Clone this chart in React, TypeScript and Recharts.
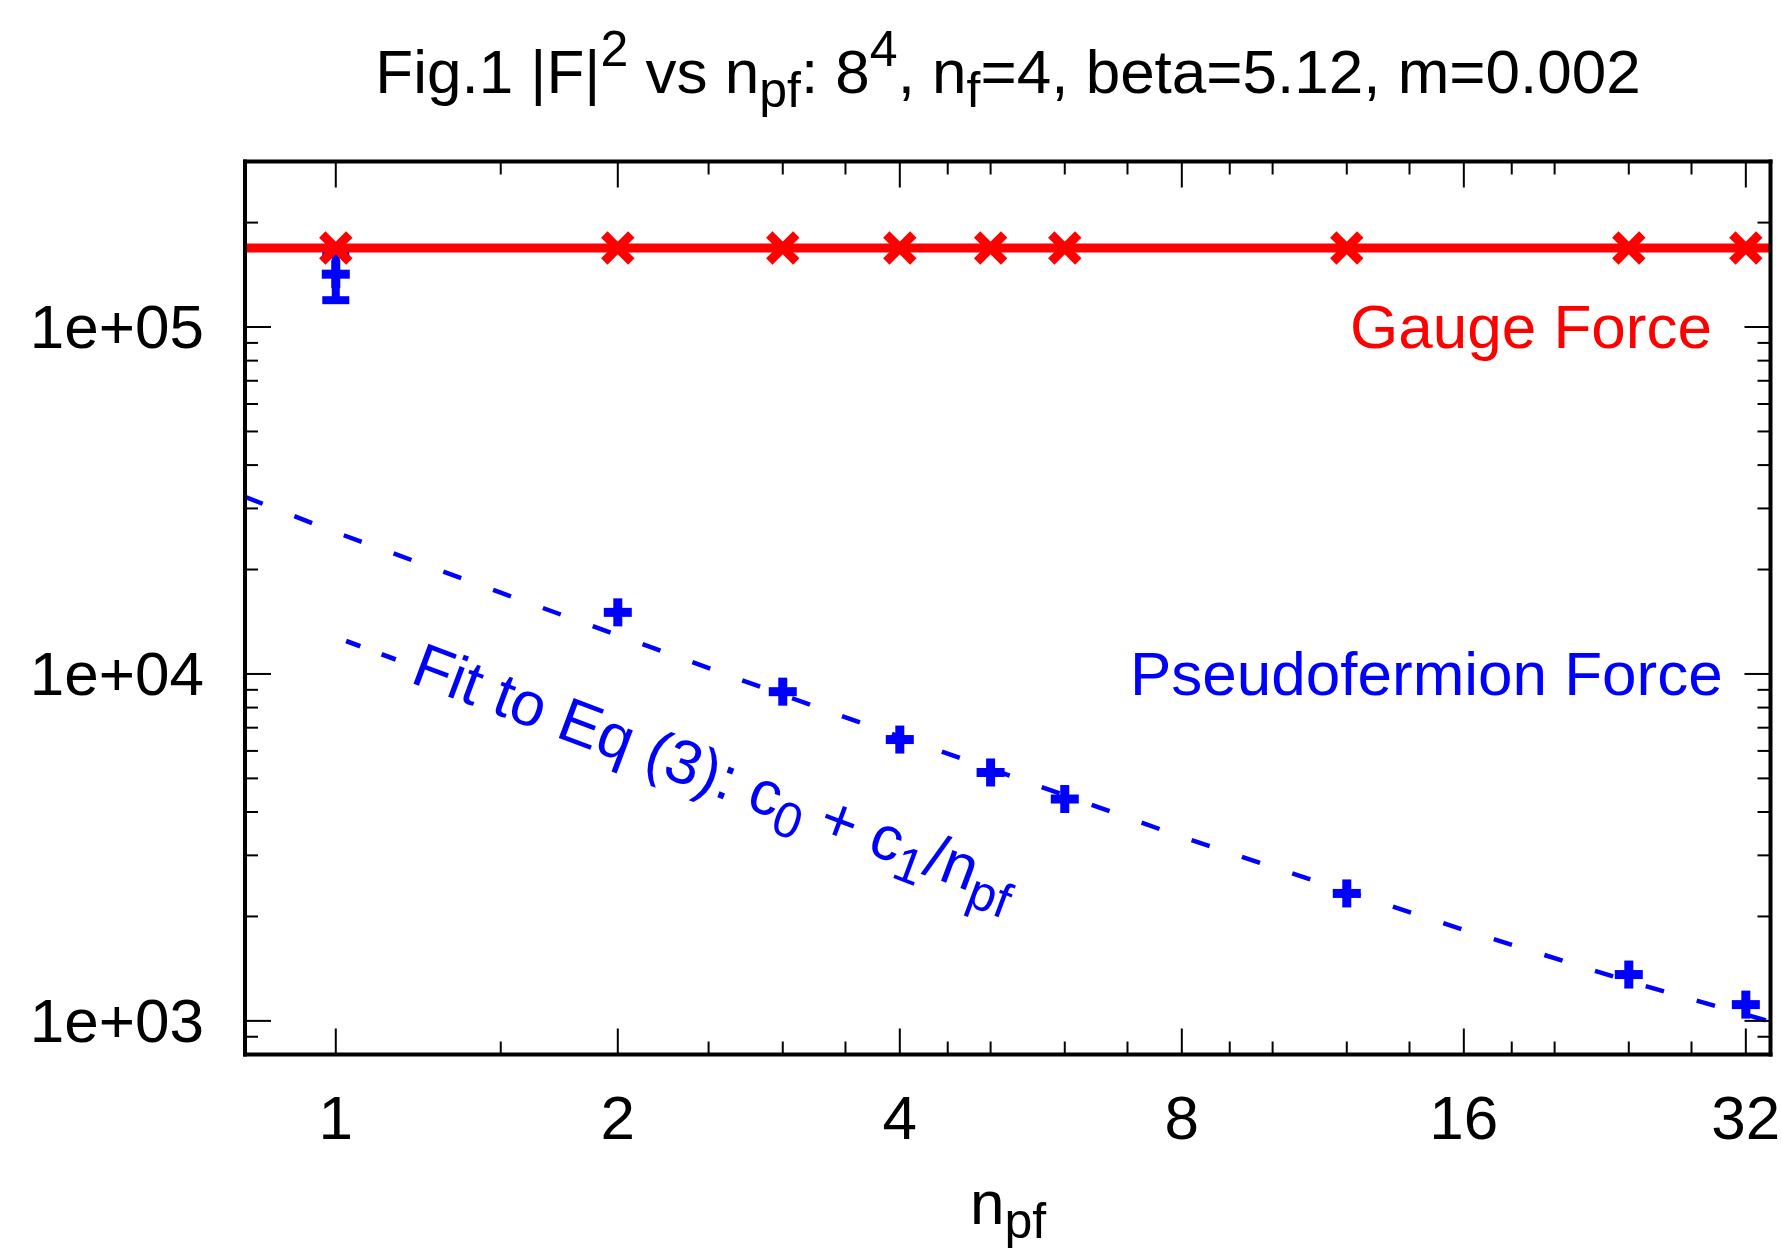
import React from 'react';
import { ComposedChart, Line, Scatter, XAxis, YAxis, ErrorBar } from 'recharts';

const W = 1781;
const H = 1252;
// plot frame (pixels)
const PL = 245;
const PT = 161.5;
const PR = 1770.5;
const PB = 1054.5;

const FONT = '"Liberation Sans", Arial, Helvetica, sans-serif';
const FS = 62;

// number of pseudofermions
const npf = [1, 2, 3, 4, 5, 6, 12, 24, 32];
// |F|^2 gauge force
const gaugeForce = [169000, 169000, 169000, 169000, 169000, 169000, 169000, 169000, 169000];
// |F|^2 pseudofermion force and its error
const pseudoForce = [142000, 15050, 8890, 6470, 5200, 4360, 2330, 1360, 1114];
const pseudoErr = [22500, 0, 0, 0, 0, 0, 0, 0, 0];

// constant fit to the gauge force
const gaugeFitN = [0.8, 34];
const gaugeFit = 169000;

// fit curve c0 + c1/npf
const fitN = [0.8, 1, 1.5, 2, 3, 4, 6, 8, 12, 16, 24, 34];
const fitVal = [32400, 25600, 17150, 12930, 8700, 6600, 4470, 3390, 2360, 1830, 1300, 995];

const xMajor = [1, 2, 4, 8, 16, 32];
const xLabels = ['1', '2', '4', '8', '16', '32'];
const xMinor = [1.5, 2.5, 3, 3.5, 4.5, 5, 6, 7, 9, 10, 12, 14, 18, 20, 24, 28];
const yMajor = [1000, 10000, 100000];
const yLabels = ['1e+03', '1e+04', '1e+05'];
const yMinor = [900, 2000, 3000, 4000, 5000, 6000, 7000, 8000, 9000,
  20000, 30000, 40000, 50000, 60000, 70000, 80000, 90000, 200000];

const xTicks = [...xMajor, ...xMinor].sort((a, b) => a - b);
const yTicks = [...yMajor, ...yMinor].sort((a, b) => a - b);

const gaugeData = npf.map((n, i) => ({ n, v: gaugeForce[i] }));
const pseudoData = npf.map((n, i) => ({ n, v: pseudoForce[i], err: pseudoErr[i] }));
const gaugeFitData = gaugeFitN.map(n => ({ n, v: gaugeFit }));
const fitData = fitN.map((n, i) => ({ n, v: fitVal[i] }));

const MAJ = 26;
const MIN = 13;

const BottomTick = (p: any) => {
  const v = p.payload.value;
  const k = xMajor.indexOf(v);
  return (
    <g>
      <line x1={p.x} y1={p.y} x2={p.x} y2={p.y - (k >= 0 ? MAJ : MIN)} stroke="#000" strokeWidth={2} />
      {k >= 0 && (
        <text x={p.x} y={p.y + 84.5} textAnchor="middle" fontSize={FS} fontFamily={FONT} fill="#000">
          {xLabels[k]}
        </text>
      )}
    </g>
  );
};

const TopTick = (p: any) => {
  const k = xMajor.indexOf(p.payload.value);
  return <line x1={p.x} y1={p.y} x2={p.x} y2={p.y + (k >= 0 ? MAJ : MIN)} stroke="#000" strokeWidth={2} />;
};

const LeftTick = (p: any) => {
  const k = yMajor.indexOf(p.payload.value);
  return (
    <g>
      <line x1={p.x} y1={p.y} x2={p.x + (k >= 0 ? MAJ : MIN)} y2={p.y} stroke="#000" strokeWidth={2} />
      {k >= 0 && (
        <text x={p.x - 41} y={p.y + 21} textAnchor="end" fontSize={FS} fontFamily={FONT} fill="#000">
          {yLabels[k]}
        </text>
      )}
    </g>
  );
};

const RightTick = (p: any) => {
  const k = yMajor.indexOf(p.payload.value);
  return <line x1={p.x} y1={p.y} x2={p.x - (k >= 0 ? MAJ : MIN)} y2={p.y} stroke="#000" strokeWidth={2} />;
};

const Cross = (p: any) => {
  const { cx, cy } = p;
  const d = 13.5;
  return (
    <g stroke="#ff0000" strokeWidth={9}>
      <line x1={cx - d} y1={cy - d} x2={cx + d} y2={cy + d} />
      <line x1={cx - d} y1={cy + d} x2={cx + d} y2={cy - d} />
    </g>
  );
};

const Plus = (p: any) => {
  const { cx, cy } = p;
  return (
    <g fill="#0000ff">
      <rect x={cx - 14} y={cy - 4.5} width={28} height={9} />
      <rect x={cx - 4.5} y={cy - 14} width={9} height={28} />
    </g>
  );
};

const frame = { stroke: '#000', strokeWidth: 4, strokeLinecap: 'square' as const };
const SUB = 50;

export default function App() {
  return (
    <div style={{ position: 'absolute', left: 0, top: 0, width: W, height: H, background: '#fff' }}>
      <ComposedChart
        width={W}
        height={H}
        margin={{ top: PT - 1, right: W - PR - 1, bottom: H - PB - 1, left: PL - 1 }}
      >
        <XAxis
          dataKey="n"
          type="number"
          scale="log"
          domain={[0.8, 34]}
          allowDataOverflow
          ticks={xTicks}
          interval={0}
          height={1}
          tickSize={0}
          tickMargin={0}
          tickLine={false}
          axisLine={frame}
          tick={<BottomTick />}
        />
        <XAxis
          xAxisId="top"
          orientation="top"
          dataKey="n"
          type="number"
          scale="log"
          domain={[0.8, 34]}
          allowDataOverflow
          ticks={xTicks}
          interval={0}
          height={1}
          tickSize={0}
          tickMargin={0}
          tickLine={false}
          axisLine={frame}
          tick={<TopTick />}
        />
        <YAxis
          dataKey="v"
          type="number"
          scale="log"
          domain={[800, 300000]}
          allowDataOverflow
          ticks={yTicks}
          interval={0}
          width={1}
          tickSize={0}
          tickMargin={0}
          tickLine={false}
          axisLine={frame}
          tick={<LeftTick />}
        />
        <YAxis
          yAxisId="right"
          orientation="right"
          dataKey="v"
          type="number"
          scale="log"
          domain={[800, 300000]}
          allowDataOverflow
          ticks={yTicks}
          interval={0}
          width={1}
          tickSize={0}
          tickMargin={0}
          tickLine={false}
          axisLine={frame}
          tick={<RightTick />}
        />
        <Line
          data={fitData}
          dataKey="v"
          type="linear"
          stroke="#0000ff"
          strokeWidth={4.5}
          strokeDasharray="19 34"
          dot={false}
          activeDot={false}
          isAnimationActive={false}
        />
        <Scatter data={pseudoData} dataKey="v" shape={<Plus />} isAnimationActive={false}>
          <ErrorBar dataKey="err" direction="y" width={13.5} strokeWidth={8} stroke="#0000ff" isAnimationActive={false} />
        </Scatter>
        <Line
          data={gaugeFitData}
          dataKey="v"
          type="linear"
          stroke="#ff0000"
          strokeWidth={9}
          dot={false}
          activeDot={false}
          isAnimationActive={false}
        />
        <Scatter data={gaugeData} dataKey="v" shape={<Cross />} isAnimationActive={false} />
      </ComposedChart>

      <svg
        width={W}
        height={H}
        style={{ position: 'absolute', left: 0, top: 0, pointerEvents: 'none' }}
        fontFamily={FONT}
        fontSize={FS}
      >
        <text x={1008} y={93} textAnchor="middle" fill="#000">
          {'Fig.1 |F|'}
          <tspan dy={-27} fontSize={SUB}>2</tspan>
          <tspan dy={27}>{' vs n'}</tspan>
          <tspan dy={14} fontSize={SUB}>pf</tspan>
          <tspan dy={-14}>{': 8'}</tspan>
          <tspan dy={-27} fontSize={SUB}>4</tspan>
          <tspan dy={27}>{', n'}</tspan>
          <tspan dy={14} fontSize={SUB}>f</tspan>
          <tspan dy={-14}>{'=4, beta=5.12, m=0.002'}</tspan>
        </text>

        <text x={1350} y={348} fill="#ff0000">Gauge Force</text>
        <text x={1130} y={695} fill="#0000ff">Pseudofermion Force</text>

        <text x={1008} y={1224} textAnchor="middle" fill="#000">
          {'n'}
          <tspan dy={14} fontSize={SUB}>pf</tspan>
        </text>

        <g transform="translate(409,682) rotate(20.5)">
          <text x={-76} y={0} fill="#0000ff">
            {'- - Fit to Eq (3): c'}
            <tspan dy={14} fontSize={SUB}>0</tspan>
            <tspan dy={-14}>{' + c'}</tspan>
            <tspan dy={14} fontSize={SUB}>1</tspan>
            <tspan dy={-14}>{'/n'}</tspan>
            <tspan dy={14} fontSize={SUB}>pf</tspan>
          </text>
        </g>
      </svg>
    </div>
  );
}
